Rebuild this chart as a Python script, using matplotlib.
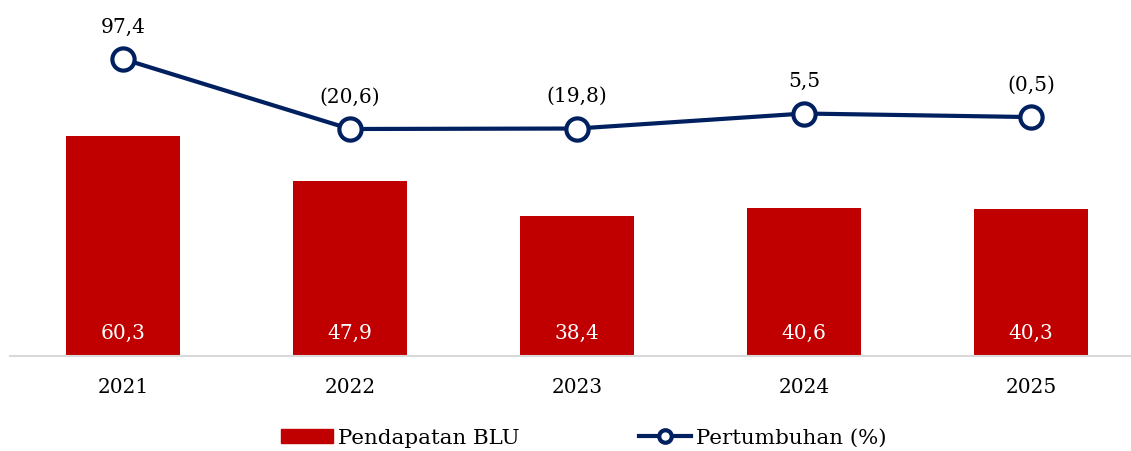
import numpy as np
import matplotlib.pyplot as plt

# ================== 数据 ==================
years = ['2021', '2022', '2023', '2024', '2025']
pendapatan = [60.3, 47.9, 38.4, 40.6, 40.3]
pertumbuhan = [97.4, -20.6, -19.8, 5.5, -0.5]

RED = '#C00000'
NAVY = '#002060'

plt.rcParams['font.family'] = ['DejaVu Serif']


def fmt(v, paren=False):
    s = f'{abs(v):.1f}'.replace('.', ',')
    if paren and v < 0:
        return f'({s})'
    return s


fig = plt.figure(figsize=(11.31, 4.51), dpi=100)
ax = fig.add_axes([10 / 1131, 95 / 451, 1120 / 1131, 336 / 451])
x = np.arange(len(years))

bars = ax.bar(x, pendapatan, width=0.5, color=RED, zorder=2)
for xi, v in zip(x, pendapatan):
    ax.annotate(fmt(v), (xi, 0), xytext=(0, 16), textcoords='offset points',
                ha='center', va='center', color='white', fontsize=14.5)

ax.set_ylim(0, 336 / 3.65)
ax.set_xlim(-0.498, 4.436)
ax.set_yticks([])
ax.set_xticks(x)
ax.set_xticklabels(years, fontsize=14.5)
ax.tick_params(axis='x', length=0, pad=16)
for s in ['top', 'right', 'left']:
    ax.spines[s].set_visible(False)
ax.spines['bottom'].set_color('#D9D9D9')
ax.spines['bottom'].set_linewidth(1.5)

ax2 = ax.twinx()
ax2.plot(x, pertumbuhan, color=NAVY, lw=3, marker='o', ms=16,
         mfc='white', mec=NAVY, mew=3, zorder=3)
for xi, v in zip(x, pertumbuhan):
    ax2.annotate(fmt(v, paren=True), (xi, v), xytext=(0, 23),
                 textcoords='offset points', ha='center', va='center',
                 fontsize=14.5)
ax2.set_ylim(-403.4, 163.2)
ax2.set_xlim(-0.498, 4.436)
ax2.set_yticks([])
for s in ax2.spines.values():
    s.set_visible(False)

h1 = plt.Rectangle((0, 0), 1, 1, color=RED)
h2 = plt.Line2D([], [], color=NAVY, lw=3, marker='o', ms=9,
                mfc='white', mec=NAVY, mew=3)
fig.legend([h1, h2], ['Pendapatan BLU', 'Pertumbuhan (%)'],
           loc='center', bbox_to_anchor=(584 / 1131, 1 - 438 / 451),
           ncol=2, frameon=False, fontsize=15.4, handlelength=2.4,
           handleheight=0.65, columnspacing=5.6, handletextpad=0.25)

fig.savefig('out.png', dpi=100)
